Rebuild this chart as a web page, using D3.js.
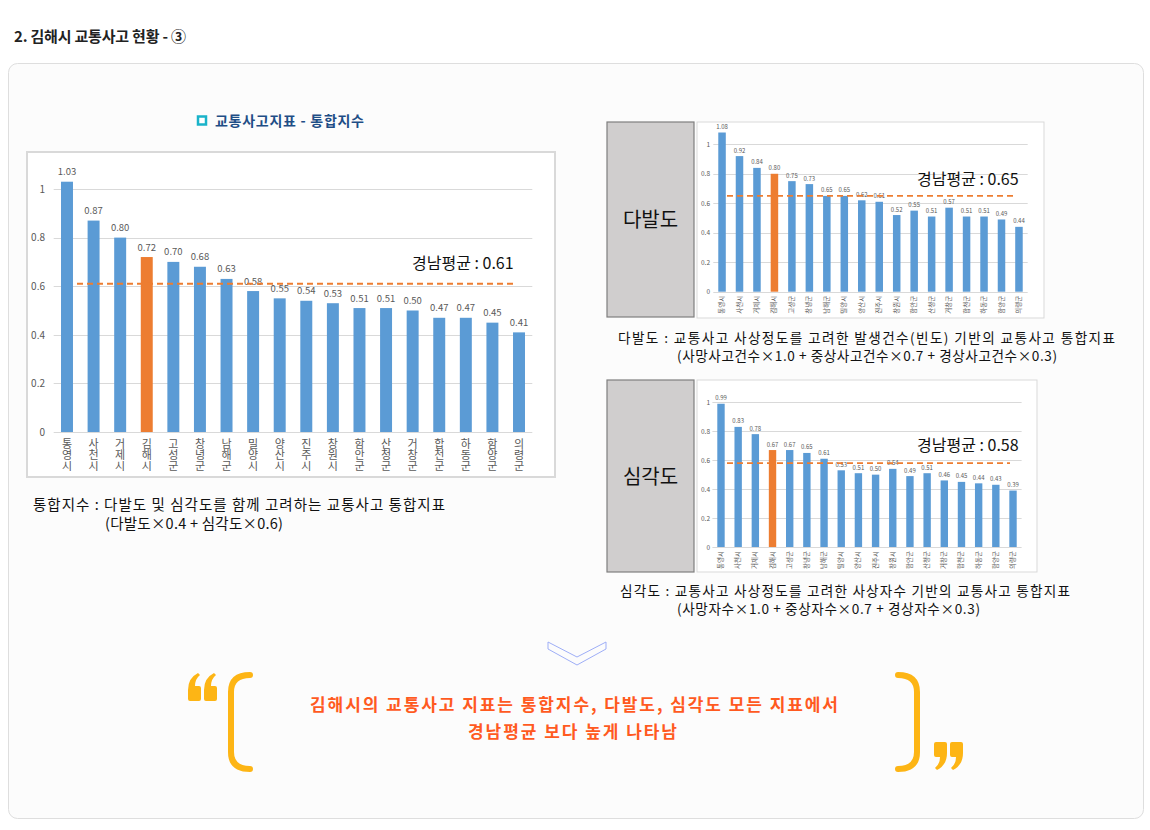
<!DOCTYPE html>
<html><head><meta charset="utf-8">
<script src="https://cdn.jsdelivr.net/npm/d3@7"></script>
<style>
html,body{margin:0;padding:0;background:#fff;}
svg{display:block;font-family:"Noto Sans CJK KR","Noto Sans",sans-serif;}
</style></head>
<body><svg id="c" width="1150" height="830"></svg>
<script>
// ---------------- data ----------------
const categories = ["통영시","사천시","거제시","김해시","고성군","창녕군","남해군","밀양시","양산시","진주시","창원시","함안군","산청군","거창군","합천군","하동군","함양군","의령군"];
const integratedValues = [1.03,0.87,0.80,0.72,0.70,0.68,0.63,0.58,0.55,0.54,0.53,0.51,0.51,0.50,0.47,0.47,0.45,0.41];
const frequencyValues  = [1.08,0.92,0.84,0.80,0.75,0.73,0.65,0.65,0.62,0.61,0.52,0.55,0.51,0.57,0.51,0.51,0.49,0.44];
const severityValues   = [0.99,0.83,0.78,0.67,0.67,0.65,0.61,0.53,0.51,0.50,0.54,0.49,0.51,0.46,0.45,0.44,0.43,0.39];
const integratedAvg = 0.61;
const frequencyAvg = 0.65;
const severityAvg = 0.58;
const yTicks = [0, 0.2, 0.4, 0.6, 0.8, 1];
const highlightCategory = "김해시";

// ---------------- page ----------------
const svg = d3.select("#c");
const BLUE = "#5b9bd5", ORANGE = "#ed7d31", LABEL = "#595959";

svg.append("text").attr("x", 14).attr("y", 42).attr("font-size", 15).attr("font-weight", 700)
  .attr("fill", "#222").attr("textLength", 172).attr("lengthAdjust", "spacing")
  .text("2. 김해시 교통사고 현황 - ③");

svg.append("rect").attr("x", 8.5).attr("y", 63.5).attr("width", 1135).attr("height", 755)
  .attr("rx", 9).attr("fill", "#fcfcfc").attr("stroke", "#dedede");

// left title
svg.append("rect").attr("x", 198).attr("y", 116.5).attr("width", 8).attr("height", 8)
  .attr("fill", "#fff").attr("stroke", "#1ab3c9").attr("stroke-width", 2.5);
svg.append("text").attr("x", 215).attr("y", 126).attr("font-size", 14).attr("font-weight", 700)
  .attr("fill", "#1f4e86").attr("textLength", 149).attr("lengthAdjust", "spacing")
  .text("교통사고지표 - 통합지수");

function drawChart(cfg, values, avg) {
  const g = svg.append("g");
  g.append("rect").attr("x", cfg.box[0]).attr("y", cfg.box[1]).attr("width", cfg.box[2]).attr("height", cfg.box[3])
    .attr("fill", "#fff").attr("stroke", "#d9d9d9").attr("stroke-width", cfg.boxStroke);
  const x = d3.scaleBand().domain(categories).range([cfg.x0, cfg.x1])
    .paddingInner(cfg.pad).paddingOuter(cfg.pad / 2);
  const y = d3.scaleLinear().domain([0, 1]).range([cfg.y0, cfg.y1]);

  g.selectAll("line.grid").data(yTicks).join("line")
    .attr("x1", cfg.x0).attr("x2", cfg.x1)
    .attr("y1", d => Math.round(y(d)) + 0.5).attr("y2", d => Math.round(y(d)) + 0.5)
    .attr("stroke", "#d9d9d9").attr("stroke-width", 1);

  const ax = g.append("g").attr("transform", `translate(${cfg.axisX},0)`)
    .call(d3.axisLeft(y).tickValues(yTicks).tickFormat(d3.format("~g")).tickSize(0).tickPadding(0));
  ax.select(".domain").remove();
  ax.selectAll("text").attr("font-size", cfg.tickFont).attr("fill", LABEL)
    .attr("font-family", '"Noto Sans CJK KR",sans-serif');

  g.selectAll("rect.bar").data(categories).join("rect")
    .attr("x", d => x(d)).attr("width", x.bandwidth())
    .attr("y", (d, i) => y(values[i])).attr("height", (d, i) => y(0) - y(values[i]))
    .attr("fill", d => d === highlightCategory ? ORANGE : BLUE);

  g.selectAll("text.val").data(categories).join("text")
    .attr("x", d => x(d) + x.bandwidth() / 2).attr("y", (d, i) => y(values[i]) - cfg.valGap)
    .attr("text-anchor", "middle").attr("font-size", cfg.valFont).attr("fill", LABEL)
    .text((d, i) => d3.format(".2f")(values[i]));

  g.append("line").attr("x1", cfg.avgX0).attr("x2", cfg.avgX1).attr("y1", y(avg)).attr("y2", y(avg))
    .attr("stroke", ORANGE).attr("stroke-width", 1.8).attr("stroke-dasharray", "6,4");
  g.append("text").attr("x", cfg.avgLabelX).attr("y", y(avg) + cfg.avgLabelDy)
    .attr("font-size", 16).attr("fill", "#111").text("경남평균 : " + d3.format(".2f")(avg));

  if (cfg.stacked) {
    g.selectAll("text.cat").data(categories).join("text")
      .attr("x", d => x(d) + x.bandwidth() / 2).attr("y", cfg.y0 + 6)
      .style("writing-mode", "vertical-rl").style("text-orientation", "upright")
      .attr("font-size", cfg.catFont).attr("fill", LABEL)
      .text(d => d);
  } else {
    g.selectAll("text.cat").data(categories).join("text")
      .attr("transform", d => `translate(${x(d) + x.bandwidth() / 2 + 2},${cfg.y0 + 4}) rotate(-90)`)
      .attr("text-anchor", "end").attr("font-size", cfg.catFont).attr("fill", LABEL)
      .text(d => d);
  }
}

drawChart({box:[27,152,528,325], boxStroke:2, x0:53.7, x1:532.3, pad:0.55, y0:432, y1:189,
  axisX:45, tickFont:10, valFont:9.5, valGap:6.5, avgX0:77, avgX1:513, avgLabelX:412, avgLabelDy:-15,
  stacked:true, catFont:11}, integratedValues, integratedAvg);

svg.append("rect").attr("x", 607).attr("y", 122).attr("width", 87).attr("height", 195)
  .attr("fill", "#d0cece").attr("stroke", "#7f7f7f").attr("stroke-width", 1.2);
svg.append("text").attr("x", 650.5).attr("y", 227).attr("text-anchor", "middle").attr("font-size", 20)
  .attr("fill", "#111").text("다발도");
drawChart({box:[697,122,347,196], boxStroke:1, x0:713.3, x1:1027.7, pad:0.57, y0:291.7, y1:144.3,
  axisX:710, tickFont:6.5, valFont:6, valGap:3.5, avgX0:727, avgX1:1015, avgLabelX:917, avgLabelDy:-11,
  stacked:false, catFont:6.5}, frequencyValues, frequencyAvg);

svg.append("rect").attr("x", 607).attr("y", 380).attr("width", 87).attr("height", 192)
  .attr("fill", "#d0cece").attr("stroke", "#7f7f7f").attr("stroke-width", 1.2);
svg.append("text").attr("x", 650.5).attr("y", 484).attr("text-anchor", "middle").attr("font-size", 20)
  .attr("fill", "#111").text("심각도");
drawChart({box:[697,380,340,192], boxStroke:1, x0:712.4, x1:1021.6, pad:0.57, y0:547, y1:402.3,
  axisX:710, tickFont:6.5, valFont:6, valGap:3.5, avgX0:727, avgX1:1010, avgLabelX:917, avgLabelDy:-12,
  stacked:false, catFont:6.5}, severityValues, severityAvg);

function caption(lines, xs, ys, lens, fs) {
  lines.forEach((s, i) => svg.append("text").attr("x", xs[i]).attr("y", ys[i]).attr("font-size", fs)
    .attr("fill", "#111").attr("textLength", lens[i]).attr("lengthAdjust", "spacing").text(s));
}
caption(["통합지수 : 다발도 및 심각도를 함께 고려하는 교통사고 통합지표", "(다발도×0.4 + 심각도×0.6)"], [33, 105], [510, 529], [412, 178], 14.5);
caption(["다발도 : 교통사고 사상정도를 고려한 발생건수(빈도) 기반의 교통사고 통합지표", "(사망사고건수×1.0 + 중상사고건수×0.7 + 경상사고건수×0.3)"], [618, 677], [343, 361], [497, 380], 13.6);
caption(["심각도 : 교통사고 사상정도를 고려한 사상자수 기반의 교통사고 통합지표", "(사망자수×1.0 + 중상자수×0.7 + 경상자수×0.3)"], [620, 677], [596, 614], [450, 303], 13.6);

svg.append("polygon").attr("points", "548,642 577,657 606,642 606,649 577,665 548,649")
  .attr("fill", "none").attr("stroke", "#9eaef7").attr("stroke-width", 1);

const Q = "#fdb515";
function quoteGlyph(g, x0) {
  const p = `M${x0+2},701 L${x0+11},701 Q${x0+13},701 ${x0+13},699 L${x0+13},688 Q${x0+13},686 ${x0+11},686 L${x0+7},686 Q${x0+7},679 ${x0+12},675 L${x0+10},673 Q${x0},678 ${x0},690 L${x0},699 Q${x0},701 ${x0+2},701 Z`;
  g.append("path").attr("d", p).attr("fill", Q);
}
const lq = svg.append("g");
quoteGlyph(lq, 188); quoteGlyph(lq, 204);
const rq = svg.append("g").attr("transform", "translate(1151,1443) rotate(180)");
quoteGlyph(rq, 188); quoteGlyph(rq, 204);

svg.append("path").attr("d", "M250,675 Q231,675 231,692 L231,752 Q231,769 250,769")
  .attr("fill", "none").attr("stroke", Q).attr("stroke-width", 6).attr("stroke-linecap", "round");
svg.append("path").attr("d", "M898,675 Q917,675 917,692 L917,752 Q917,769 898,769")
  .attr("fill", "none").attr("stroke", Q).attr("stroke-width", 6).attr("stroke-linecap", "round");

svg.append("text").attr("x", 310).attr("y", 711).attr("font-size", 17)
  .attr("font-weight", 700).attr("fill", "#ff5a1f").attr("textLength", 528).attr("lengthAdjust", "spacing")
  .text("김해시의 교통사고 지표는 통합지수, 다발도, 심각도 모든 지표에서");
svg.append("text").attr("x", 468).attr("y", 738).attr("font-size", 17)
  .attr("font-weight", 700).attr("fill", "#ff5a1f").attr("textLength", 209).attr("lengthAdjust", "spacing")
  .text("경남평균 보다 높게 나타남");
</script></body></html>
